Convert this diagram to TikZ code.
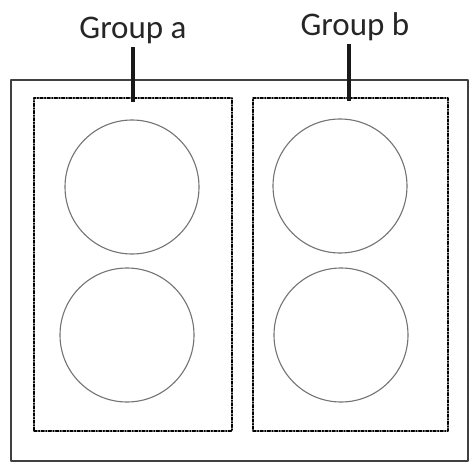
\documentclass[tikz,border=0pt]{standalone}
\usepackage{fontspec}
\setmainfont{Carlito}
\tikzset{
  frame/.style = {draw=black!75, line width=1.5pt},
  groupbox/.style = {draw=black, line width=1.4pt, dash pattern=on 3pt off 1.6pt on 1pt off 1.6pt,
    minimum width=198pt, minimum height=333pt, inner sep=0pt},
  well/.style = {circle, draw=black!55, line width=1.1pt, minimum size=134pt, inner sep=0pt},
  grouplabel/.style = {anchor=base, inner sep=2.5pt, text=black!85},
  stem/.style = {line width=4.5pt, line cap=butt, draw=black!90}
}
\begin{document}
\begin{tikzpicture}[x=1pt, y=-1pt, line join=round, line cap=round,
    font=\fontsize{33}{39}\selectfont]
  \useasboundingbox (0,0) rectangle (476,465);
  \path
  (11,80) coordinate (F1)
  (468,461) coordinate (F2)
  ;
  \draw[frame] (F1) rectangle (F2);
  % the two groups
  \node[groupbox] (boxa) at (133,264.5) {};
  \node[groupbox, minimum width=195pt] (boxb) at (350.5,264.5) {};
  \node[well] (a1) at (132,187) {};
  \node[well] (a2) at (127,335) {};
  \node[well] (b1) at (340,186) {};
  \node[well] (b2) at (341,335) {};
  % labels
  \node[grouplabel] (labela) at (133,39) {Group a};
  \node[grouplabel] (labelb) at (355,36) {Group b};
  \draw[stem] (boxa.north |- labela.south) -- ([yshift=-5pt]boxa.north);
  \draw[stem] ([xshift=-1.5pt]boxb.north |- labelb.south) -- ([xshift=-1.5pt, yshift=-4pt]boxb.north);
\end{tikzpicture}
\end{document}
